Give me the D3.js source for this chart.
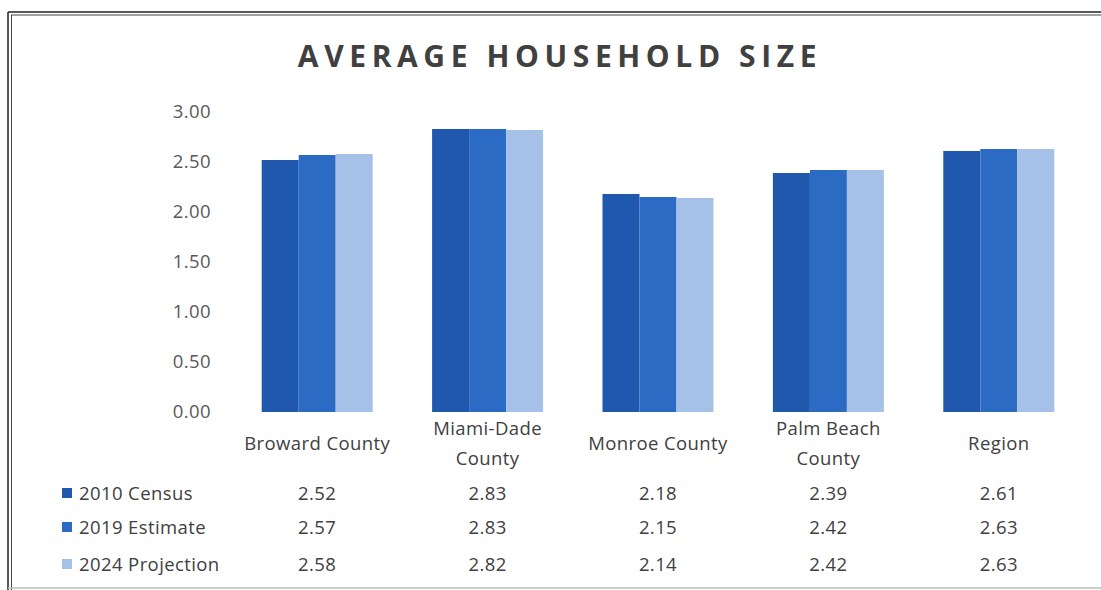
<!DOCTYPE html>
<html>
<head>
<meta charset="utf-8">
<script src="https://cdn.jsdelivr.net/npm/d3@7"></script>
<style>
	body { margin: 0; background: #fff; }
	svg text { font-family: "Open Sans", "Noto Sans", sans-serif; }
</style>
</head>
<body>
<svg id="chart" width="1101" height="590"></svg>
<script>
	let categories = [["Broward County"], ["Miami-Dade", "County"], ["Monroe County"], ["Palm Beach", "County"], ["Region"]];
	let seriesNames = ["2010 Census", "2019 Estimate", "2024 Projection"];
	let census2010 = [2.52, 2.83, 2.18, 2.39, 2.61];
	let estimate2019 = [2.57, 2.83, 2.15, 2.42, 2.63];
	let projection2024 = [2.58, 2.82, 2.14, 2.42, 2.63];
	let yTicks = [0, 0.5, 1, 1.5, 2, 2.5, 3];

	let seriesValues = [census2010, estimate2019, projection2024];
	let colors = ["#1f58ad", "#2c6bc4", "#a6c1e8"];
	let textSize = "18.5px";
	let textSpacing = "0.4px";

	let svg = d3.select("#chart");

	// frame
	svg.append("line").attr("x1", 8).attr("x2", 1101).attr("y1", 12).attr("y2", 12).attr("stroke", "#222").attr("stroke-width", 1.5);
	svg.append("line").attr("x1", 11).attr("x2", 1101).attr("y1", 15).attr("y2", 15).attr("stroke", "#444").attr("stroke-width", 1);
	svg.append("line").attr("x1", 8).attr("x2", 8).attr("y1", 12).attr("y2", 590).attr("stroke", "#222").attr("stroke-width", 1.5);
	svg.append("line").attr("x1", 11.5).attr("x2", 11.5).attr("y1", 15).attr("y2", 590).attr("stroke", "#444").attr("stroke-width", 1);
	svg.append("line").attr("x1", 8).attr("x2", 1101).attr("y1", 588).attr("y2", 588).attr("stroke", "#bbb").attr("stroke-width", 1.5);

	svg.append("text")
		.attr("x", 560).attr("y", 67)
		.attr("text-anchor", "middle")
		.style("font-size", "30px").style("font-weight", "bold")
		.style("letter-spacing", "5.6px")
		.attr("fill", "#404040")
		.text("AVERAGE HOUSEHOLD SIZE");

	let x = d3.scaleBand().domain(d3.range(categories.length)).range([232, 1084]);
	let inner = d3.scaleBand().domain(d3.range(seriesNames.length)).range([0, 111]);
	let y = d3.scaleLinear().domain([0, 3]).range([412, 112]);

	let yAxis = svg.append("g")
		.attr("transform", "translate(211,0)")
		.call(d3.axisLeft(y).tickValues(yTicks).tickFormat(d3.format(".2f")).tickSize(0).tickPadding(0));
	yAxis.select(".domain").remove();
	yAxis.selectAll("text")
		.style("font-size", textSize).style("letter-spacing", textSpacing).attr("fill", "#595959")
		.style("font-family", "\"Open Sans\", sans-serif");

	for (let s = 0; s < seriesValues.length; s++) {
		svg.append("g").selectAll("rect")
			.data(seriesValues[s])
			.enter()
			.append("rect")
			.attr("x", function(d, i){ return x(i) + x.bandwidth() / 2 - 55.5 + inner(s); })
			.attr("width", inner.bandwidth())
			.attr("y", function(d){ return y(d); })
			.attr("height", function(d){ return y(0) - y(d); })
			.attr("fill", colors[s]);
	}

	// category labels
	let catG = svg.append("g");
	categories.forEach(function(lines, i){
		let cx = x(i) + x.bandwidth() / 2;
		let t = catG.append("text")
			.attr("text-anchor", "middle")
			.style("font-size", textSize).style("letter-spacing", textSpacing).attr("fill", "#404040");
		if (lines.length == 1) {
			t.append("tspan").attr("x", cx).attr("y", 450).text(lines[0]);
		} else {
			t.append("tspan").attr("x", cx).attr("y", 435).text(lines[0]);
			t.append("tspan").attr("x", cx).attr("y", 465).text(lines[1]);
		}
	});

	// data table
	let rowY = [500, 534, 571];
	seriesNames.forEach(function(name, s){
		svg.append("rect")
			.attr("x", 62).attr("y", rowY[s] - 12).attr("width", 10).attr("height", 10)
			.attr("fill", colors[s]);
		svg.append("text")
			.attr("x", 79).attr("y", rowY[s])
			.style("font-size", textSize).style("letter-spacing", textSpacing).attr("fill", "#404040")
			.text(name);
		svg.append("g").selectAll("text")
			.data(seriesValues[s])
			.enter()
			.append("text")
			.attr("x", function(d, i){ return x(i) + x.bandwidth() / 2; })
			.attr("y", rowY[s])
			.attr("text-anchor", "middle")
			.style("font-size", textSize).style("letter-spacing", textSpacing).attr("fill", "#404040")
			.text(function(d){ return d3.format(".2f")(d); });
	});
</script>
</body>
</html>
